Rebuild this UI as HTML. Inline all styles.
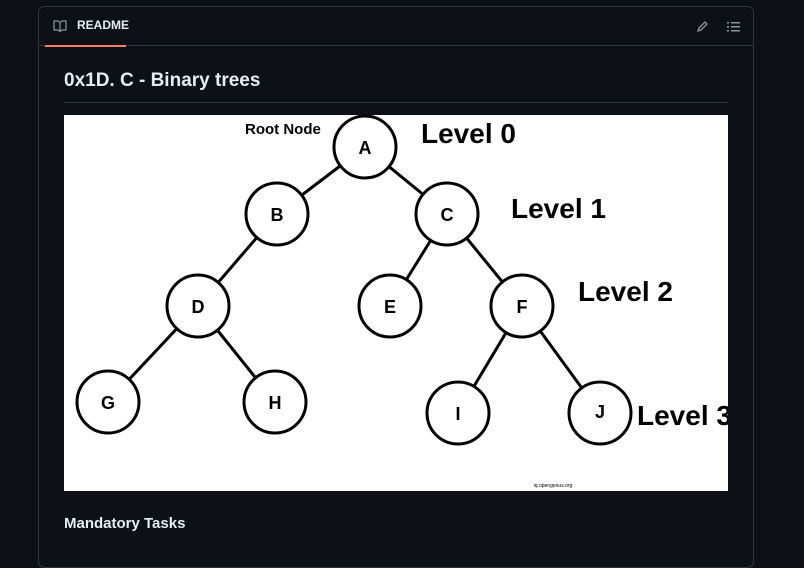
<!DOCTYPE html>
<html><head><style>
html,body{margin:0;background:#0d1117;width:804px;height:532px;overflow:hidden;font-family:"Liberation Sans",sans-serif;}
.box{position:absolute;left:38px;top:6px;width:714px;height:560px;border:1px solid #30363d;border-radius:6px;}
.hdr{position:absolute;left:0;top:0;right:0;height:38px;border-bottom:1px solid #30363d;}
.tab{position:absolute;left:6px;top:0;width:81px;height:38px;border-bottom:2px solid #f78166;}
.tab span{position:absolute;left:32px;top:11px;color:#e6edf3;font-size:12px;font-weight:bold;}
h1{position:absolute;left:64px;top:70px;margin:0;color:#e6edf3;font-size:19px;font-weight:bold;}
.rule{position:absolute;left:64px;top:102px;width:664px;height:1px;background:#30363d;}
svg.img{position:absolute;left:64px;top:115px;}
.mt{position:absolute;left:64px;top:515px;color:#e6edf3;font-size:15px;font-weight:bold;}
</style></head><body>
<div class="box"><div class="hdr"><div class="tab">
<svg style="position:absolute;left:8px;top:13px" width="14" height="12" viewBox="0 0 14 12"><path d="M1 1h4l2 1.5L9 1h4v9H9l-2 1.5L5 10H1z M7 2.5v9" fill="none" stroke="#8b949e" stroke-width="1.2"/></svg>
<span>README</span></div>
<svg style="position:absolute;left:657px;top:14px" width="12" height="12"><path d="M2 10l1-3 6-6 2 2-6 6z" fill="none" stroke="#8b949e" stroke-width="1.3"/></svg>
<svg style="position:absolute;left:688px;top:14px" width="14" height="12"><g fill="#8b949e"><rect x="0" y="1" width="2" height="1.5"/><rect x="4" y="1" width="9" height="1.5"/><rect x="0" y="5" width="2" height="1.5"/><rect x="4" y="5" width="9" height="1.5"/><rect x="0" y="9" width="2" height="1.5"/><rect x="4" y="9" width="9" height="1.5"/></g></svg>
</div></div>
<h1>0x1D. C - Binary trees</h1>
<div class="rule"></div>
<svg class="img" width="664" height="376" viewBox="64 115 664 376">
<rect x="64" y="115" width="664" height="376" fill="#fff"/>
<g stroke="#000" stroke-width="3">
<line x1="365" y1="147" x2="277" y2="214"/><line x1="365" y1="147" x2="447" y2="214"/>
<line x1="277" y1="214" x2="198" y2="306"/><line x1="447" y1="214" x2="390" y2="306"/><line x1="447" y1="214" x2="522" y2="306"/>
<line x1="198" y1="306" x2="108" y2="402"/><line x1="198" y1="306" x2="275" y2="402"/>
<line x1="522" y1="306" x2="458" y2="413"/><line x1="522" y1="306" x2="600" y2="413"/>
</g>
<g fill="#fff" stroke="#000" stroke-width="3">
<circle cx="365" cy="147" r="31"/><circle cx="277" cy="214" r="31"/><circle cx="447" cy="214" r="31"/>
<circle cx="198" cy="306" r="31"/><circle cx="390" cy="306" r="31"/><circle cx="522" cy="306" r="31"/>
<circle cx="108" cy="402" r="31"/><circle cx="275" cy="402" r="31"/><circle cx="458" cy="413" r="31"/><circle cx="600" cy="413" r="31"/>
</g>
<g font-family="Liberation Sans" font-weight="bold" font-size="18" text-anchor="middle" fill="#000">
<text x="365" y="154">A</text><text x="277" y="221">B</text><text x="447" y="221">C</text>
<text x="198" y="313">D</text><text x="390" y="313">E</text><text x="522" y="313">F</text>
<text x="108" y="409">G</text><text x="275" y="409">H</text><text x="458" y="420">I</text><text x="600" y="418">J</text>
</g>
<g font-family="Liberation Sans" font-weight="bold" fill="#000">
<text x="245" y="134" font-size="15">Root Node</text>
<text x="421" y="143" font-size="28">Level 0</text>
<text x="511" y="218" font-size="28">Level 1</text>
<text x="578" y="301" font-size="28">Level 2</text>
<text x="637" y="425" font-size="28">Level 3</text>
<text x="553" y="487" font-size="5" text-anchor="middle" font-weight="normal">iq.opengenus.org</text>
</g>
</svg>
<div class="mt">Mandatory Tasks</div>
</body></html>
